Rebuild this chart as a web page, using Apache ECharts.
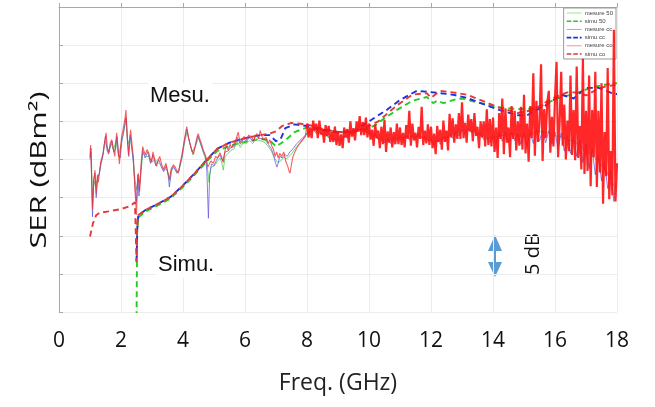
<!DOCTYPE html>
<html>
<head>
<meta charset="utf-8">
<script src="https://cdn.jsdelivr.net/npm/echarts@6/dist/echarts.min.js"></script>
<style>html,body{margin:0;padding:0;background:#fff}#c{width:655px;height:407px}</style>
</head>
<body>
<div id="c"></div>
<script>
const xTicks = [0, 2, 4, 6, 8, 10, 12, 14, 16, 18];
const legendNames = ['mesure 50', 'simu 50', 'mesure cc', 'simu cc', 'mesure co', 'simu co'];

const simu50 = [[2.50,-42],[2.52,-29.5],[2.56,-27.6],[2.8,-26.8],[3.2,-26.0],[3.6,-25.1],[4.0,-23.6],[4.4,-21.9],[4.8,-20.1],[5.1,-18.9],[5.5,-18.2],[6.0,-17.7],[6.5,-17.3],[6.8,-17.5],[7.0,-18.3],[7.3,-17.5],[7.6,-16.4],[8.0,-15.8],[8.5,-16.2],[9.0,-16.5],[9.5,-16.4],[10.0,-15.9],[10.2,-15.5],[10.5,-14.6],[10.9,-13.5],[11.4,-12.3],[11.86,-11.8],[12.07,-12.6],[12.2,-12.3],[12.4,-12.6],[12.8,-12.1],[13.0,-12.0],[13.6,-12.6],[14.1,-13.1],[14.8,-13.4],[15.4,-13.3],[16.06,-12.0],[16.7,-11.3],[17.2,-10.5],[17.9,-10.0],[18.0,-10.0]];

const simuCc = [[2.50,-33.4],[2.53,-28.5],[2.56,-27.3],[2.8,-26.6],[3.2,-25.8],[3.6,-24.9],[4.0,-23.4],[4.4,-21.7],[4.8,-19.9],[5.1,-18.6],[5.5,-17.8],[6.0,-17.2],[6.5,-16.8],[6.8,-16.8],[7.0,-17.6],[7.15,-17.3],[7.3,-15.9],[7.6,-15.4],[8.0,-15.6],[8.5,-16.1],[9.0,-16.4],[9.5,-16.3],[10.0,-15.0],[10.57,-13.5],[11.0,-12.2],[11.54,-11.0],[11.86,-11.1],[12.3,-11.3],[12.7,-11.5],[13.15,-11.9],[13.6,-12.6],[14.2,-13.5],[14.8,-14.2],[15.1,-14.2],[15.7,-12.9],[16.2,-11.5],[16.6,-12.0],[17.0,-10.6],[17.4,-10.6],[17.9,-11.4],[18.0,-11.4]];

const simuCo = [[1.0,-30.1],[1.05,-29.2],[1.1,-28.3],[1.2,-27.3],[1.3,-27.0],[1.6,-26.8],[2.0,-26.5],[2.3,-26.1],[2.45,-25.6],[2.49,-25.8],[2.50,-33.4],[2.52,-29.0],[2.55,-27.3],[2.8,-26.6],[3.2,-25.8],[3.6,-24.9],[4.0,-23.4],[4.4,-21.7],[4.8,-19.9],[5.1,-18.6],[5.5,-17.8],[6.0,-17.2],[6.5,-16.8],[6.8,-16.6],[7.0,-16.3],[7.2,-15.6],[7.5,-15.2],[8.0,-15.4],[8.5,-16.0],[9.0,-16.4],[9.5,-16.4],[10.0,-15.6],[10.3,-15.0],[10.9,-12.9],[11.4,-11.5],[11.86,-11.3],[12.0,-11.9],[12.3,-11.0],[12.7,-11.2],[13.15,-11.5],[13.6,-12.2],[14.2,-13.2],[14.8,-13.9],[15.3,-13.5],[15.9,-12.0],[16.4,-11.2],[16.7,-11.2],[17.0,-11.6],[17.45,-10.6],[17.95,-10.2]];

const meas50 = [[1.00,-19.8],[1.04,-19.0],[1.08,-25.5],[1.13,-22.8],[1.18,-23.5],[1.24,-22.5],[1.30,-21.9],[1.36,-20.5],[1.42,-19.4],[1.48,-17.6],[1.54,-17.8],[1.60,-19.0],[1.68,-17.9],[1.76,-18.8],[1.84,-17.5],[1.92,-19.6],[2.00,-18.0],[2.08,-16.6],[2.15,-14.6],[2.22,-18.0],[2.30,-17.0],[2.38,-19.4],[2.45,-22.5],[2.50,-24.0],[2.56,-22.5],[2.62,-23.0],[2.70,-19.2],[2.80,-19.6],[2.90,-19.6],[3.00,-20.3],[3.10,-20.0],[3.20,-20.4],[3.30,-20.8],[3.40,-21.2],[3.50,-21.4],[3.58,-22.8],[3.66,-21.0],[3.76,-21.4],[3.86,-21.6],[3.96,-20.0],[4.05,-17.8],[4.13,-16.4],[4.22,-17.8],[4.32,-19.4],[4.42,-18.0],[4.50,-17.2],[4.60,-18.4],[4.70,-19.6],[4.78,-20.8],[4.84,-23.0],[4.90,-21.0],[5.00,-20.9],[5.10,-20.3],[5.20,-19.8],[5.26,-20.6],[5.30,-21.4],[5.36,-19.6],[5.45,-19.2],[5.55,-18.8],[5.65,-18.6],[5.75,-17.6],[5.85,-18.4],[5.95,-17.8],[6.05,-17.9],[6.15,-17.5],[6.25,-17.9],[6.35,-17.3],[6.45,-17.5],[6.55,-17.6],[6.65,-17.8],[6.75,-18.3],[6.85,-18.9],[6.95,-19.8],[7.05,-20.4],[7.15,-20.2],[7.25,-19.7],[7.35,-19.9],[7.45,-19.5],[7.55,-19.0],[7.65,-18.4],[7.75,-17.9],[7.85,-17.4],[7.95,-17.0],
[8.0,-16.6],[8.2,-16.2],[8.4,-16.5],[8.6,-16.9],[8.8,-17.3],[9.0,-17.5],[9.2,-17.1],[9.4,-16.6],[9.6,-16.2],[9.8,-16.1],[10.0,-16.6],[10.2,-17.1],[10.4,-17.5],[10.6,-17.6],[10.8,-17.3],[11.0,-17.2],[11.2,-17.0],[11.4,-17.1],[11.6,-16.9],[11.8,-17.2],[12.0,-17.5],[12.2,-17.7],[12.4,-17.2],[12.6,-16.9],[12.8,-16.5],[13.0,-16.3],[13.2,-16.1],[13.4,-16.3],[13.6,-16.8],[13.8,-17.3],[14.0,-17.1],[14.2,-16.9],[14.4,-16.8],[14.6,-16.6],[14.8,-16.9],[15.0,-17.0],[15.2,-16.7],[15.4,-16.3],[15.6,-16.4],[15.8,-16.5],[16.0,-16.9],[16.2,-17.0],[16.4,-17.4],[16.6,-17.6],[16.8,-18.2],[17.0,-18.8],[17.2,-19.5],[17.4,-20.2],[17.6,-21.2],[17.8,-22.5],[17.95,-23.8]];

const measCc = [[1.00,-20.0],[1.03,-18.5],[1.06,-24.0],[1.08,-27.5],[1.12,-22.5],[1.16,-21.8],[1.20,-25.0],[1.25,-22.3],[1.30,-21.8],[1.35,-20.6],[1.40,-19.8],[1.45,-18.3],[1.50,-16.9],[1.55,-18.8],[1.60,-19.3],[1.66,-18.2],[1.71,-17.6],[1.77,-19.0],[1.82,-18.6],[1.87,-17.0],[1.92,-19.2],[1.97,-19.8],[2.03,-17.5],[2.08,-16.5],[2.13,-15.4],[2.17,-14.5],[2.21,-17.4],[2.25,-19.6],[2.30,-16.8],[2.35,-18.6],[2.40,-20.5],[2.45,-23.5],[2.50,-25.5],[2.54,-22.0],[2.58,-24.8],[2.63,-21.8],[2.70,-18.8],[2.78,-19.8],[2.86,-19.0],[2.95,-20.5],[3.03,-19.4],[3.12,-20.8],[3.22,-20.0],[3.30,-21.0],[3.38,-21.6],[3.46,-20.8],[3.52,-22.0],[3.56,-23.6],[3.62,-21.5],[3.70,-20.9],[3.80,-21.8],[3.88,-21.2],[3.96,-19.8],[4.05,-17.5],[4.12,-16.0],[4.20,-17.6],[4.30,-19.0],[4.40,-18.3],[4.48,-16.9],[4.56,-17.8],[4.65,-18.9],[4.72,-19.6],[4.77,-21.5],[4.82,-27.7],[4.86,-22.0],[4.92,-20.6],[5.00,-20.8],[5.10,-19.9],[5.19,-19.4],[5.28,-20.2],[5.36,-19.0],[5.45,-18.9],[5.55,-18.4],[5.65,-18.3],[5.75,-17.1],[5.85,-18.0],[5.95,-17.3],[6.05,-17.6],[6.15,-17.1],[6.25,-17.6],[6.35,-16.9],[6.45,-17.2],[6.55,-17.3],[6.65,-17.4],[6.75,-18.0],[6.85,-18.6],[6.92,-19.4],[6.98,-20.4],[7.03,-21.0],[7.07,-20.5],[7.12,-19.6],[7.20,-19.8],[7.28,-19.3],[7.36,-19.6],[7.45,-19.0],[7.55,-18.6],[7.65,-18.0],[7.75,-17.6],[7.85,-17.2],[7.95,-16.8],
[8.0,-16.5],[8.1,-16.2],[8.2,-16.0],[8.3,-16.6],[8.4,-16.3],[8.5,-16.8],[8.6,-16.5],[8.7,-17.1],[8.8,-16.8],[8.9,-17.5],[9.0,-17.2],[9.1,-17.6],[9.2,-16.9],[9.3,-17.2],[9.4,-16.5],[9.5,-16.6],[9.6,-16.0],[9.7,-16.3],[9.8,-15.8],[9.9,-16.4],[10.0,-16.2],[10.1,-17.0],[10.2,-16.7],[10.3,-17.4],[10.4,-17.0],[10.5,-17.8],[10.6,-17.2],[10.7,-17.9],[10.8,-17.0],[10.9,-17.6],[11.0,-16.9],[11.1,-17.5],[11.2,-16.8],[11.3,-17.4],[11.4,-16.7],[11.5,-17.3],[11.6,-16.6],[11.7,-17.2],[11.8,-17.0],[11.9,-17.6],[12.0,-17.3],[12.1,-18.1],[12.2,-17.4],[12.3,-18.0],[12.4,-17.0],[12.5,-17.5],[12.6,-16.6],[12.7,-17.2],[12.8,-16.3],[12.9,-16.9],[13.0,-16.0],[13.1,-16.6],[13.2,-15.9],[13.3,-16.5],[13.4,-16.0],[13.5,-16.8],[13.6,-16.5],[13.7,-17.4],[13.8,-17.0],[13.9,-17.8],[14.0,-16.8],[14.1,-17.9],[14.2,-16.5],[14.3,-17.6],[14.4,-16.3],[14.5,-17.8],[14.6,-16.4],[14.7,-17.5],[14.8,-16.6],[14.9,-18.0],[15.0,-16.5],[15.1,-18.2],[15.2,-16.3],[15.3,-17.9],[15.4,-16.0],[15.5,-17.6],[15.6,-16.1],[15.7,-17.8],[15.8,-16.2],[15.9,-18.0],[16.0,-16.4],[16.1,-18.6],[16.2,-16.5],[16.3,-18.9],[16.4,-16.8],[16.5,-19.2],[16.6,-17.0],[16.7,-19.6],[16.8,-17.5],[16.9,-20.4],[17.0,-18.0],[17.1,-21.2],[17.2,-18.6],[17.3,-22.0],[17.4,-19.4],[17.5,-22.8],[17.6,-20.3],[17.7,-23.8],[17.8,-21.4],[17.9,-25.5],[17.95,-23.0]];

const measCoLow = [[1.00,-19.6],[1.02,-18.1],[1.05,-22.0],[1.08,-26.5],[1.12,-23.0],[1.16,-21.4],[1.20,-24.5],[1.24,-22.0],[1.27,-23.0],[1.31,-21.5],[1.34,-20.4],[1.38,-19.8],[1.43,-19.1],[1.47,-17.8],[1.52,-16.5],[1.56,-18.5],[1.60,-19.1],[1.65,-17.9],[1.70,-17.4],[1.75,-18.6],[1.80,-19.6],[1.83,-17.8],[1.86,-16.5],[1.90,-18.4],[1.95,-20.6],[1.99,-18.3],[2.02,-17.0],[2.06,-16.2],[2.10,-15.3],[2.13,-14.6],[2.16,-13.5],[2.20,-17.0],[2.24,-19.4],[2.28,-17.3],[2.31,-16.1],[2.36,-18.2],[2.40,-19.7],[2.45,-24.0],[2.50,-27.2],[2.53,-23.5],[2.56,-21.8],[2.60,-24.2],[2.65,-20.5],[2.70,-18.3],[2.75,-19.0],[2.78,-19.4],[2.84,-18.7],[2.90,-19.2],[2.95,-20.0],[2.99,-20.4],[3.03,-19.0],[3.06,-19.5],[3.10,-20.2],[3.15,-20.9],[3.20,-20.0],[3.25,-19.6],[3.31,-20.6],[3.37,-21.4],[3.41,-20.9],[3.45,-20.5],[3.50,-21.6],[3.56,-22.6],[3.62,-21.2],[3.69,-20.7],[3.75,-21.0],[3.80,-21.5],[3.85,-21.8],[3.90,-20.6],[3.96,-19.5],[4.02,-18.0],[4.07,-16.8],[4.12,-15.7],[4.18,-17.1],[4.23,-18.0],[4.28,-18.8],[4.34,-19.3],[4.40,-18.0],[4.45,-17.1],[4.49,-16.6],[4.55,-17.4],[4.60,-18.0],[4.65,-18.7],[4.70,-19.2],[4.75,-19.8],[4.80,-21.0],[4.85,-20.8],[4.90,-20.2],[4.98,-20.5],[5.05,-19.6],[5.12,-19.8],[5.19,-19.1],[5.25,-19.7],[5.30,-20.4],[5.35,-18.9],[5.40,-18.2],[5.46,-18.8],[5.52,-18.0],[5.57,-18.5],[5.62,-18.1],[5.70,-17.5],[5.78,-16.4],[5.84,-17.8],[5.90,-17.6],[5.97,-17.0],[6.05,-17.4],[6.12,-16.8],[6.20,-17.0],[6.28,-17.6],[6.33,-16.9],[6.38,-16.6],[6.44,-17.3],[6.49,-16.2],[6.55,-17.0],[6.60,-17.4],[6.68,-17.1],[6.75,-17.9],[6.80,-17.4],[6.86,-18.2],[6.92,-18.7],[6.97,-19.6],[7.02,-19.0],[7.07,-19.8],[7.12,-19.2],[7.18,-19.6],[7.25,-19.0],[7.32,-20.3],[7.38,-20.9],[7.42,-21.5],[7.45,-21.8],[7.50,-20.6],[7.55,-19.6],[7.61,-19.0],[7.67,-18.5],[7.75,-18.0],[7.83,-17.6],[7.90,-17.2],[7.95,-16.9],[8.00,-15.3]];

const measCoHigh = [[8.00,-15.3],[8.05,-17.1],[8.10,-15.8],[8.15,-17.2],[8.20,-14.9],[8.25,-16.2],[8.30,-15.3],[8.35,-17.2],[8.40,-14.9],[8.45,-16.7],[8.50,-16.0],[8.55,-17.8],[8.60,-15.5],[8.65,-16.9],[8.70,-15.6],[8.75,-17.7],[8.80,-16.4],[8.85,-17.7],[8.90,-15.7],[8.95,-18.1],
[9.00,-16.3],[9.05,-18.2],[9.10,-16.7],[9.15,-18.5],[9.20,-15.8],[9.25,-17.1],[9.30,-16.0],[9.35,-17.8],[9.40,-15.0],[9.45,-17.0],[9.50,-15.9],[9.55,-17.5],[9.60,-15.0],[9.65,-16.3],[9.70,-14.3],[9.75,-16.8],[9.80,-15.1],[9.85,-16.8],[9.90,-14.5],[9.95,-17.1],
[10.00,-15.3],[10.05,-17.4],[10.10,-16.1],[10.15,-18.2],[10.20,-15.4],[10.25,-17.2],[10.30,-16.2],[10.35,-18.5],[10.40,-15.7],[10.45,-18.0],[10.50,-14.8],[10.55,-19.0],[10.60,-16.3],[10.65,-17.8],[10.70,-15.8],[10.75,-18.4],[10.80,-16.4],[10.85,-18.0],[10.90,-15.3],[10.95,-18.0],
[11.00,-15.8],[11.05,-18.1],[11.10,-16.5],[11.15,-18.4],[11.20,-15.5],[11.25,-17.3],[11.30,-13.6],[11.35,-18.2],[11.40,-15.3],[11.45,-17.5],[11.50,-16.5],[11.55,-18.4],[11.60,-15.7],[11.65,-17.3],[11.70,-13.1],[11.75,-18.1],[11.80,-16.2],[11.85,-17.9],[11.90,-15.4],[11.95,-18.1],
[12.00,-15.7],[12.05,-18.5],[12.10,-16.6],[12.15,-19.3],[12.20,-15.6],[12.25,-17.7],[12.30,-16.1],[12.35,-18.7],[12.40,-14.9],[12.45,-17.7],[12.50,-16.2],[12.55,-18.8],[12.60,-14.0],[12.65,-17.1],[12.70,-14.6],[12.75,-17.8],[12.80,-15.4],[12.85,-17.3],[12.90,-13.9],[12.95,-17.3],
[13.00,-12.5],[13.05,-17.2],[13.10,-15.2],[13.15,-17.8],[13.20,-14.1],[13.25,-16.3],[13.30,-14.7],[13.35,-17.6],[13.40,-13.9],[13.45,-16.9],[13.50,-15.7],[13.55,-18.5],[13.60,-15.0],[13.65,-17.1],[13.70,-15.0],[13.75,-18.3],[13.80,-13.4],[13.85,-18.1],[13.90,-14.7],[13.95,-18.3],
[14.00,-14.5],[14.05,-19.0],[14.10,-15.8],[14.15,-19.8],[14.20,-13.9],[14.25,-17.3],[14.30,-12.0],[14.35,-19.3],[14.40,-13.3],[14.45,-17.8],[14.50,-15.8],[14.55,-19.7],[14.60,-13.0],[14.65,-17.3],[14.70,-13.6],[14.75,-18.8],[14.80,-15.0],[14.85,-18.2],[14.90,-13.1],[14.95,-18.7],
[15.00,-11.5],[15.05,-19.2],[15.10,-15.3],[15.15,-20.3],[15.20,-13.0],[15.25,-17.2],[15.30,-8.7],[15.35,-19.5],[15.40,-12.3],[15.45,-17.7],[15.50,-15.2],[15.55,-7.5],[15.60,-20.2],[15.65,-13.4],[15.70,-17.2],[15.75,-12.5],[15.80,-11.0],[15.85,-19.1],[15.90,-14.4],[15.95,-18.3],
[16.00,-12.0],[16.05,-7.2],[16.10,-19.7],[16.15,-15.1],[16.20,-8.5],[16.25,-18.2],[16.30,-12.8],[16.35,-20.0],[16.40,-14.9],[16.45,-18.9],[16.50,-9.0],[16.55,-19.4],[16.60,-13.5],[16.65,-20.1],[16.70,-7.8],[16.75,-19.8],[16.80,-15.6],[16.85,-21.3],[16.90,-6.8],[16.95,-21.9],
[17.00,-13.6],[17.05,-21.5],[17.10,-9.0],[17.15,-23.5],[17.20,-13.5],[17.25,-19.7],[17.30,-8.5],[17.35,-23.6],[17.40,-13.6],[17.45,-21.7],[17.50,-10.0],[17.55,-25.8],[17.60,-16.4],[17.65,-22.2],[17.70,-8.0],[17.75,-25.2],[17.80,-18.9],[17.85,-24.7],[17.90,-3.0],[17.95,-25.5],[18.00,-20.5]];

const FONT = '"Open Sans", Lato, sans-serif';
const LABEL_FONT = '"Liberation Sans", Arial, sans-serif';
const SOLID_ICON = 'path://M0,0h16v1h-16z';
const DASH_ICON = 'path://M0,0h5v1.7h-5zM7,0h5v1.7h-5zM14,0h2v1.7h-2z';
const chart = echarts.init(document.getElementById('c'), null, {renderer: 'canvas'});

function simu(name, data, color) {
  return {name, type: 'line', data, showSymbol: false, symbol: 'none', animation: false, clip: true,
    lineStyle: {color, width: 1.9, type: [6, 4]}, itemStyle: {color}, z: 2};
}
function meas(name, data, color, legendColor, width, opacity, z) {
  return {name, type: 'line', data, showSymbol: false, symbol: 'none', animation: false, clip: true,
    lineStyle: {color, width, opacity}, itemStyle: {color: legendColor}, z};
}

chart.setOption({
  backgroundColor: '#fff',
  animation: false,
  grid: {left: 59, right: 38, top: 7, bottom: 95},
  legend: {
    data: legendNames.map(n => ({name: n, icon: n.startsWith('simu') ? DASH_ICON : SOLID_ICON})),
    orient: 'vertical', right: 39, top: 8,
    itemWidth: 15, itemHeight: 6, itemGap: 2.2, padding: [2, 3, 2, 3],
    backgroundColor: '#fff', borderColor: '#999', borderWidth: 1, borderRadius: 0,
    textStyle: {fontSize: 6, color: '#444', fontFamily: 'Arial, sans-serif', padding: [0, 0, 0, -2]}
  },
  xAxis: {
    type: 'value', min: 0, max: 18, interval: 2,
    name: 'Freq. (GHz)', nameLocation: 'middle', nameGap: 60,
    nameTextStyle: {fontSize: 23, color: '#222', fontFamily: FONT},
    axisLine: {show: true, lineStyle: {color: '#a8a8a8'}},
    axisTick: {show: true, inside: true, length: 4, lineStyle: {color: '#a8a8a8'}},
    axisLabel: {fontSize: 21, color: '#111', fontFamily: FONT, margin: 19,
      formatter: v => xTicks.includes(v) ? String(v) : ''},
    splitLine: {show: true, lineStyle: {color: '#ececec'}}
  },
  yAxis: {
    type: 'value', min: -40, max: 0, interval: 5,
    axisLine: {show: true, lineStyle: {color: '#a8a8a8'}},
    axisTick: {show: true, inside: true, length: 4, lineStyle: {color: '#a8a8a8'}},
    axisLabel: {show: false},
    splitLine: {show: true, lineStyle: {color: '#ececec'}}
  },
  series: [
    simu('simu 50', simu50, '#22cc22'),
    simu('simu cc', simuCc, '#2030e0'),
    simu('simu co', simuCo, '#e03a3a'),
    meas('mesure 50', meas50, '#55d055', '#90e890', 1, 0.8, 3),
    meas('mesure cc', measCc, '#6a5ee0', '#9a9af0', 1, 0.8, 4),
    meas('mesure co', measCoLow, '#f22a2a', '#ff8a8a', 1.1, 0.75, 5),
    meas('mesure co', measCoHigh, '#ff1010', '#ff8a8a', 2.2, 0.9, 5)
  ],
  graphic: [
    {type: 'text', x: 40, y: 170, rotation: Math.PI / 2, scaleX: 1.4,
      style: {text: 'SER (dBm²)', fontSize: 22, fontFamily: FONT, fill: '#111', align: 'center', verticalAlign: 'middle'}},
    {type: 'text', left: 148, top: 83, z: 10,
      style: {text: 'Mesu.', fontSize: 22, fontFamily: LABEL_FONT, fill: '#111', backgroundColor: '#fff', padding: [2, 2]}},
    {type: 'text', left: 156, top: 252, z: 10,
      style: {text: 'Simu.', fontSize: 22, fontFamily: LABEL_FONT, fill: '#111', backgroundColor: '#fff', padding: [2, 2]}},
    {type: 'text', x: 533, y: 254, rotation: Math.PI / 2,
      style: {text: '5 dB', fontSize: 20, fontFamily: FONT, fill: '#111', align: 'center', verticalAlign: 'middle'}},
    {type: 'polygon', shape: {points: [[495,235],[502,251],[496,251],[496,262],[502,262],[495,277],[488,262],[494,262],[494,251],[488,251]]},
      style: {fill: '#5b9bd5'}}
  ]
});
</script>
</body>
</html>
